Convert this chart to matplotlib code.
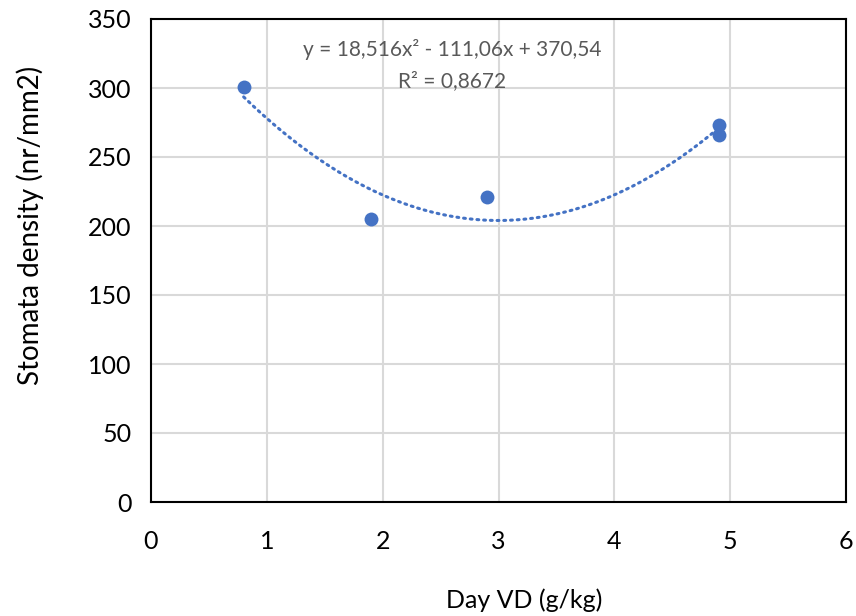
import numpy as np
import matplotlib.pyplot as plt

plt.rcParams['font.family'] = ['Lato', 'DejaVu Sans']

# data
day_vd = [0.8, 1.9, 2.9, 4.9, 4.9]
stomata = [301, 205, 221, 273, 266]

# trendline from the label
coef = [18.516, -111.06, 370.54]
eq_label = "y = 18,516x\u00b2 - 111,06x + 370,54"
r2_label = "R\u00b2 = 0,8672"

blue = '#4472C4'

fig = plt.figure(figsize=(8.56, 6.16), dpi=100)
ax = fig.add_axes([151/856, 114/616, 695/856, 483/616])

xs = np.linspace(min(day_vd), max(day_vd), 200)
ax.plot(xs, np.polyval(coef, xs), color=blue, lw=2.2, linestyle=(0, (0.6, 1.6)),
        dash_capstyle='round', zorder=2)
ax.scatter(day_vd, stomata, s=100, color=blue, zorder=3, linewidths=0)

ax.text(2.6, 328, eq_label, ha='center', va='center', fontsize=15, color='#595959')
ax.text(2.6, 305, r2_label, ha='center', va='center', fontsize=15, color='#595959')

ax.set_xlim(0, 6)
ax.set_ylim(0, 350)
ax.set_xticks(range(0, 7))
ax.set_yticks(range(0, 351, 50))
ax.grid(True, color='#d9d9d9', lw=1.5)
ax.set_axisbelow(True)
ax.tick_params(length=0, labelsize=18)
ax.tick_params(axis='x', pad=20)
ax.tick_params(axis='y', pad=14)
for s in ax.spines.values():
    s.set_linewidth(1.5)
    s.set_color('black')

ax.set_xlabel('Day VD (g/kg)', fontsize=18, va='center')
ax.set_ylabel('Stomata density (nr/mm2)', fontsize=20, va='center')
ax.xaxis.set_label_coords(0.537, -0.203)
ax.yaxis.set_label_coords(-0.174, 0.573)

fig.savefig('out.png', dpi=100)
